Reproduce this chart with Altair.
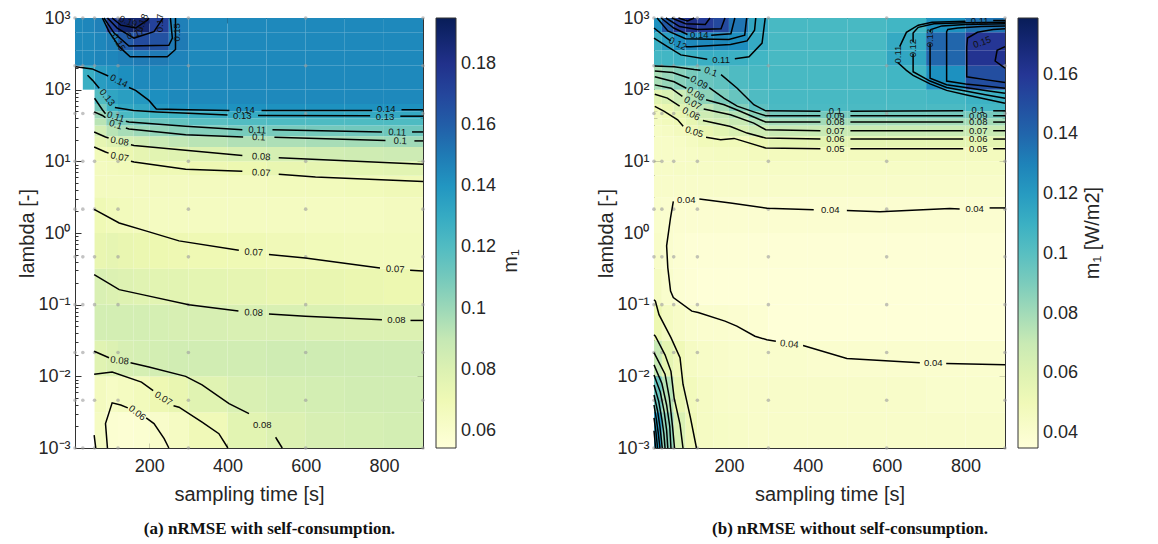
import altair as alt
import numpy as np
import pandas as pd

FONT = "Liberation Sans"
YLGNBU = ["#ffffd9", "#edf8b1", "#c7e9b4", "#7fcdbb", "#41b6c4",
          "#1d91c0", "#225ea8", "#253494", "#081d58"]

# grid of cells (sampling time edges, log10(lambda) edges)
X_EDGES = [10, 30, 60, 90, 120, 160, 200, 250, 300, 400, 500, 600, 700, 800, 900]
E_EDGES = [-3.0, -2.5, -2.0, -1.5, -1.0, -0.5, 0.0, 0.5, 0.8, 1.0, 1.2, 1.35,
           1.5, 1.6, 1.7, 1.8, 2.0, 2.333, 2.55, 2.8, 3.0]

# sample points
DOT_X = [10, 30, 60, 120, 300, 600, 900]
DOT_E = [-3.0, -2.333, -1.667, -1.0, -0.333, 0.333, 1.0, 1.667, 2.333, 3.0]

X_TICKS = [200, 400, 600, 800]
Y_TICKS = [-3, -2, -1, 0, 1, 2, 3]
MINOR_E = [k + float(np.log10(m)) for k in range(-3, 3) for m in range(2, 10)]

N = None
# panel (a): nRMSE with self-consumption, rows bottom -> top
A_ROWS = [
    [N, N, 0.064, 0.058, 0.057, 0.058, 0.061, 0.064, 0.069, 0.077, 0.080, 0.082, 0.083, 0.084],
    [N, N, 0.066, 0.063, 0.065, 0.067, 0.071, 0.074, 0.078, 0.081, 0.083, 0.084, 0.085, 0.085],
    [N, N, 0.078, 0.080, 0.082, 0.083, 0.084, 0.085, 0.085, 0.085, 0.086, 0.086, 0.086, 0.086],
    [N, N, 0.084, 0.084, 0.084, 0.084, 0.083, 0.082, 0.082, 0.081, 0.081, 0.0805, 0.080, 0.080],
    [N, N, 0.081, 0.080, 0.079, 0.078, 0.077, 0.077, 0.076, 0.075, 0.074, 0.074, 0.073, 0.072],
    [N, N, 0.074, 0.075, 0.074, 0.073, 0.072, 0.071, 0.0705, 0.070, 0.069, 0.068, 0.067, 0.067],
    [N, N, 0.070, 0.068, 0.067, 0.066, 0.065, 0.065, 0.065, 0.065, 0.065, 0.065, 0.065, 0.066],
    [N, N, 0.066, 0.066, 0.066, 0.066, 0.066, 0.066, 0.066, 0.066, 0.067, 0.067, 0.068, 0.069],
    [N, N, 0.066, 0.067, 0.068, 0.069, 0.070, 0.070, 0.071, 0.072, 0.074, 0.075, 0.076, 0.077],
    [N, N, 0.068, 0.070, 0.073, 0.075, 0.077, 0.078, 0.079, 0.081, 0.083, 0.085, 0.086, 0.087],
    [N, N, 0.075, 0.079, 0.083, 0.085, 0.088, 0.091, 0.093, 0.095, 0.096, 0.097, 0.098, 0.099],
    [N, N, 0.084, 0.093, 0.097, 0.100, 0.102, 0.104, 0.106, 0.109, 0.109, 0.110, 0.111, 0.112],
    [N, N, 0.093, 0.105, 0.109, 0.111, 0.113, 0.115, 0.118, 0.120, 0.121, 0.121, 0.121, 0.121],
    [N, N, 0.100, 0.113, 0.122, 0.123, 0.125, 0.126, 0.128, 0.130, 0.131, 0.131, 0.131, 0.131],
    [N, N, 0.110, 0.125, 0.132, 0.133, 0.139, 0.142, 0.142, 0.142, 0.142, 0.142, 0.142, 0.142],
    [N, N, 0.120, 0.133, 0.136, 0.139, 0.143, 0.145, 0.145, 0.145, 0.145, 0.145, 0.145, 0.145],
    [N, 0.128, 0.137, 0.140, 0.143, 0.145, 0.145, 0.145, 0.145, 0.145, 0.145, 0.145, 0.145, 0.145],
    [0.145, 0.145, 0.146, 0.146, 0.148, 0.150, 0.150, 0.147, 0.145, 0.145, 0.145, 0.145, 0.145, 0.145],
    [0.145, 0.145, 0.146, 0.148, 0.161, 0.168, 0.165, 0.150, 0.145, 0.145, 0.145, 0.145, 0.145, 0.145],
    [0.145, 0.146, 0.148, 0.172, 0.190, 0.188, 0.172, 0.148, 0.145, 0.145, 0.145, 0.145, 0.145, 0.145],
]

# panel (b): nRMSE without self-consumption, rows bottom -> top
B_ROWS = [
    [0.120, 0.085, 0.062, 0.050, 0.045, 0.044, 0.043, 0.042, 0.042, 0.042, 0.042, 0.042, 0.042, 0.042],
    [0.095, 0.075, 0.055, 0.048, 0.045, 0.043, 0.042, 0.042, 0.042, 0.042, 0.042, 0.042, 0.041, 0.041],
    [0.071, 0.057, 0.050, 0.045, 0.043, 0.042, 0.041, 0.041, 0.041, 0.040, 0.040, 0.040, 0.040, 0.040],
    [0.053, 0.046, 0.043, 0.041, 0.040, 0.040, 0.039, 0.038, 0.036, 0.036, 0.036, 0.036, 0.036, 0.036],
    [0.045, 0.041, 0.038, 0.037, 0.036, 0.036, 0.036, 0.036, 0.036, 0.036, 0.036, 0.036, 0.036, 0.036],
    [0.042, 0.040, 0.038, 0.037, 0.037, 0.037, 0.037, 0.037, 0.037, 0.037, 0.037, 0.037, 0.037, 0.037],
    [0.041, 0.040, 0.039, 0.039, 0.039, 0.039, 0.039, 0.039, 0.039, 0.039, 0.039, 0.039, 0.039, 0.039],
    [0.042, 0.042, 0.042, 0.042, 0.042, 0.042, 0.042, 0.042, 0.042, 0.042, 0.042, 0.042, 0.042, 0.042],
    [0.043, 0.043, 0.044, 0.044, 0.044, 0.044, 0.044, 0.044, 0.044, 0.044, 0.044, 0.044, 0.044, 0.044],
    [0.043, 0.043, 0.043, 0.044, 0.045, 0.046, 0.046, 0.047, 0.047, 0.047, 0.047, 0.047, 0.047, 0.047],
    [0.043, 0.043, 0.044, 0.046, 0.049, 0.049, 0.049, 0.054, 0.057, 0.057, 0.057, 0.057, 0.057, 0.057],
    [0.044, 0.045, 0.047, 0.050, 0.055, 0.058, 0.062, 0.067, 0.070, 0.070, 0.070, 0.070, 0.070, 0.070],
    [0.046, 0.048, 0.051, 0.056, 0.062, 0.066, 0.070, 0.077, 0.080, 0.080, 0.080, 0.080, 0.080, 0.080],
    [0.047, 0.050, 0.055, 0.060, 0.068, 0.072, 0.076, 0.087, 0.092, 0.092, 0.092, 0.092, 0.092, 0.092],
    [0.050, 0.054, 0.060, 0.066, 0.073, 0.079, 0.088, 0.099, 0.104, 0.104, 0.104, 0.104, 0.104, 0.106],
    [0.058, 0.062, 0.068, 0.076, 0.085, 0.090, 0.096, 0.103, 0.105, 0.105, 0.105, 0.105, 0.106, 0.109],
    [0.079, 0.083, 0.087, 0.091, 0.095, 0.098, 0.103, 0.105, 0.105, 0.105, 0.105, 0.107, 0.125, 0.150],
    [0.106, 0.107, 0.109, 0.110, 0.111, 0.111, 0.110, 0.107, 0.105, 0.105, 0.105, 0.115, 0.140, 0.162],
    [0.110, 0.118, 0.126, 0.128, 0.128, 0.128, 0.126, 0.113, 0.105, 0.105, 0.105, 0.113, 0.140, 0.160],
    [0.125, 0.145, 0.158, 0.165, 0.158, 0.152, 0.135, 0.115, 0.105, 0.105, 0.105, 0.107, 0.125, 0.135],
]

# contour line pieces: (level, [(sampling time, log10 lambda), ...])
A_LINES = [
    ("0.14", [(12, 2.32), (54, 2.29), (95, 2.19)]),
    ("0.14", [(148, 2.03), (165, 1.99), (199, 1.85), (218, 1.73), (300, 1.72), (405, 1.71)]),
    ("0.14", [(487, 1.71), (770, 1.71)]),
    ("0.14", [(845, 1.72), (900, 1.72)]),
    ("0.13", [(42, 2.2), (55, 2.13), (72, 2.02)]),
    ("0.13", [(112, 1.75), (160, 1.71), (220, 1.69), (300, 1.67), (400, 1.645)]),
    ("0.13", [(478, 1.64), (765, 1.635)]),
    ("0.13", [(842, 1.63), (900, 1.63)]),
    ("0.11", [(60, 1.88), (80, 1.72), (88, 1.665)]),
    ("0.11", [(140, 1.56), (148, 1.55), (293, 1.49), (438, 1.44)]),
    ("0.11", [(515, 1.44), (795, 1.41)]),
    ("0.11", [(872, 1.41), (900, 1.41)]),
    ("0.1", [(59, 1.69), (80, 1.64), (88, 1.61)]),
    ("0.1", [(140, 1.465), (148, 1.45), (293, 1.37), (440, 1.34)]),
    ("0.1", [(520, 1.335), (804, 1.29)]),
    ("0.1", [(878, 1.285), (900, 1.285)]),
    ("0.08", [(59, 1.41), (88, 1.34), (96, 1.325)]),
    ("0.08", [(153, 1.23), (161, 1.22), (438, 1.08)]),
    ("0.08", [(531, 1.05), (900, 0.96)]),
    ("0.07", [(59, 1.2), (88, 1.13), (96, 1.115)]),
    ("0.07", [(153, 1.0), (161, 0.99), (293, 0.89), (438, 0.86)]),
    ("0.07", [(531, 0.82), (625, 0.78), (900, 0.72)]),
    ("0.07", [(59, 0.33), (123, 0.14), (191, 0.03), (276, -0.11), (429, -0.24)]),
    ("0.07", [(506, -0.30), (599, -0.35), (790, -0.49)]),
    ("0.07", [(867, -0.52), (900, -0.53)]),
    ("0.08", [(59, -0.58), (123, -0.79), (182, -0.86), (301, -1.0), (428, -1.09)]),
    ("0.08", [(506, -1.13), (599, -1.16), (795, -1.21)]),
    ("0.08", [(868, -1.22), (900, -1.22)]),
    ("0.08", [(59, -1.65), (97, -1.74)]),
    ("0.08", [(152, -1.81), (199, -1.87), (293, -2.0), (335, -2.12), (404, -2.38), (455, -2.52)]),
    ("0.08", [(523, -2.85), (540, -3.0)]),
    ("0.07", [(59, -1.97), (105, -1.94), (180, -2.08), (210, -2.2)]),
    ("0.07", [(262, -2.41), (276, -2.43), (335, -2.64), (378, -2.80), (401, -3.0)]),
    ("0.06", [(93, -3.0), (88, -2.66), (105, -2.37), (127, -2.40), (145, -2.44)]),
    ("0.06", [(192, -2.58), (212, -2.66), (238, -2.87), (250, -3.0)]),
    ("0.06", [(59, -2.82), (63, -3.0)]),
    ("0.15", [(80, 3.0), (97, 2.81), (123, 2.60), (151, 2.46), (246, 2.46), (267, 2.56), (267, 3.0)]),
    ("0.16", [(84, 3.0), (110, 2.79), (148, 2.61), (250, 2.62), (259, 2.72), (254, 3.0)]),
    ("0.17", [(93, 3.0), (118, 2.86), (161, 2.72), (212, 2.81), (235, 3.0)]),
    ("0.18", [(105, 3.0), (127, 2.90), (165, 2.86), (195, 2.97), (199, 3.0)]),
]

# contour labels: (text, sampling time, log10 lambda, angle)
A_LABELS = [
    ("0.14", 122, 2.12, 27), ("0.14", 446, 1.72, 0), ("0.14", 806, 1.725, 0),
    ("0.13", 92, 1.89, 52), ("0.13", 438, 1.635, 0), ("0.13", 803, 1.625, 0),
    ("0.11", 114, 1.62, 18), ("0.11", 476, 1.435, 2), ("0.11", 834, 1.405, 2),
    ("0.1", 114, 1.51, 18), ("0.1", 480, 1.335, 2), ("0.1", 842, 1.285, 2),
    ("0.08", 124, 1.28, 10), ("0.08", 486, 1.065, 3),
    ("0.07", 124, 1.06, 12), ("0.07", 486, 0.84, 3),
    ("0.07", 467, -0.27, 3), ("0.07", 829, -0.505, 3),
    ("0.08", 467, -1.11, 2), ("0.08", 832, -1.215, 0),
    ("0.08", 124, -1.78, 6), ("0.08", 489, -2.68, 0),
    ("0.07", 236, -2.31, 32), ("0.06", 169, -2.51, 38),
    ("0.15", 121, 2.66, 60), ("0.15", 272, 2.80, 270), ("0.17", 165, 2.78, 340),
    ("0.19", 146, 2.95, 20), ("0.18", 182, 2.93, 290), ("0.17", 228, 2.93, 270),
]

B_LINES = [
    ("0.1", [(12, 2.33), (61, 2.32), (112, 2.28), (128, 2.27)]),
    ("0.1", [(180, 2.21), (221, 2.02), (263, 1.79), (293, 1.705), (432, 1.70)]),
    ("0.1", [(508, 1.70), (794, 1.705)]),
    ("0.1", [(870, 1.705), (900, 1.705)]),
    ("0.09", [(12, 2.26), (57, 2.24), (100, 2.16)]),
    ("0.09", [(150, 2.03), (188, 1.88), (221, 1.77), (263, 1.69), (293, 1.636), (432, 1.636)]),
    ("0.09", [(508, 1.636), (794, 1.636)]),
    ("0.09", [(870, 1.636), (900, 1.636)]),
    ("0.08", [(12, 2.18), (61, 2.11), (92, 2.02)]),
    ("0.08", [(142, 1.86), (188, 1.789), (230, 1.696), (293, 1.548), (432, 1.548)]),
    ("0.08", [(508, 1.548), (794, 1.548)]),
    ("0.08", [(870, 1.548), (900, 1.548)]),
    ("0.07", [(12, 2.067), (53, 2.021), (82, 1.905)]),
    ("0.07", [(136, 1.73), (204, 1.65), (263, 1.534), (293, 1.441), (432, 1.427)]),
    ("0.07", [(508, 1.427), (794, 1.427)]),
    ("0.07", [(870, 1.427), (900, 1.427)]),
    ("0.06", [(12, 1.937), (44, 1.882), (75, 1.77)]),
    ("0.06", [(134, 1.57), (204, 1.487), (246, 1.394), (293, 1.325), (432, 1.311)]),
    ("0.06", [(508, 1.311), (794, 1.311)]),
    ("0.06", [(870, 1.311), (900, 1.311)]),
    ("0.05", [(12, 1.766), (36, 1.696), (70, 1.58), (84, 1.49)]),
    ("0.05", [(142, 1.335), (179, 1.302), (213, 1.32), (293, 1.186), (432, 1.176)]),
    ("0.05", [(508, 1.176), (794, 1.176)]),
    ("0.05", [(870, 1.176), (900, 1.176)]),
    ("0.04", [(900, 0.35), (861, 0.35)]),
    ("0.04", [(785, 0.335), (760, 0.341), (583, 0.295), (499, 0.313)]),
    ("0.04", [(415, 0.325), (297, 0.347), (204, 0.42), (125, 0.473)]),
    ("0.04", [(59, 0.44), (52, 0.216), (42, -0.18), (45, -0.483), (52, -0.81), (59, -0.90),
              (106, -1.09), (122, -1.11), (190, -1.23), (220, -1.30), (266, -1.44),
              (296, -1.49), (319, -1.51)]),
    ("0.04", [(388, -1.57), (499, -1.75), (684, -1.81)]),
    ("0.04", [(751, -1.82), (900, -1.84)]),
    ("0.05", [(10, -0.93), (13.5, -0.95), (22.7, -1.14), (53, -1.46), (76, -1.74),
              (83.5, -2.11), (102.5, -2.58), (117.7, -3.0)]),
    ("0.06", [(10, -1.42), (13.5, -1.44), (38, -1.70), (53, -1.93), (61, -2.30), (76, -2.67), (83.5, -3.0)]),
    ("0.07", [(10, -1.67), (38, -1.97), (49, -2.30), (57, -2.7), (62, -3.0)]),
    ("0.08", [(10, -1.84), (30, -2.1), (42, -2.4), (50, -2.7), (53, -3.0)]),
    ("0.09", [(10, -1.98), (26, -2.22), (36, -2.5), (42, -2.75), (45, -3.0)]),
    ("0.1", [(10, -2.12), (22, -2.35), (30, -2.6), (35, -2.8), (38, -3.0)]),
    ("0.11", [(10, -2.26), (19, -2.48), (25, -2.7), (31, -3.0)]),
    ("0.12", [(10, -2.4), (16, -2.6), (21, -2.8), (25, -3.0)]),
    ("0.13", [(10, -2.58), (15, -2.78), (19, -3.0)]),
    ("0.14", [(10, -2.76), (14, -3.0)]),
    ("0.11", [(10, 2.72), (44, 2.6), (78, 2.485), (145, 2.425)]),
    ("0.11", [(215, 2.43), (251, 2.46), (284, 2.65), (292, 3.0)]),
    ("0.12", [(10, 2.86), (40, 2.73), (52, 2.68)]),
    ("0.12", [(90, 2.6), (103, 2.6), (204, 2.63), (246, 2.68), (265, 2.83), (268, 3.0)]),
    ("0.13", [(18, 3.0), (45, 2.82), (90, 2.71), (200, 2.70), (240, 2.76), (245, 3.0)]),
    ("0.14", [(28, 3.0), (60, 2.86), (95, 2.77)]),
    ("0.14", [(155, 2.76), (205, 2.78), (215, 3.0)]),
    ("0.15", [(40, 3.0), (75, 2.88), (120, 2.84), (180, 2.85), (190, 3.0)]),
    ("0.16", [(55, 3.0), (90, 2.92), (140, 2.91), (152, 3.0)]),
    ("0.17", [(72, 3.0), (95, 2.96), (112, 3.0)]),
    ("0.11", [(900, 2.965), (870, 2.965)]),
    ("0.11", [(800, 2.955), (715, 2.94), (680, 2.9), (650, 2.8), (633, 2.6)]),
    ("0.11", [(628, 2.38), (650, 2.27), (667, 2.2), (710, 2.08), (752, 1.99), (800, 1.93),
              (850, 1.87), (900, 1.81)]),
    ("0.12", [(900, 2.94), (800, 2.935), (720, 2.92), (680, 2.87), (667, 2.79), (667, 2.66)]),
    ("0.12", [(667, 2.5), (667, 2.25), (710, 2.12), (752, 2.03), (800, 1.98), (850, 1.93), (900, 1.88)]),
    ("0.13", [(900, 2.92), (800, 2.91), (740, 2.89), (712, 2.84), (710, 2.8)]),
    ("0.13", [(710, 2.64), (710, 2.16), (752, 2.07), (800, 2.03), (850, 1.99), (900, 1.95)]),
    ("0.14", [(900, 2.89), (840, 2.88), (780, 2.86), (755, 2.84), (752, 2.81), (752, 2.12),
              (800, 2.08), (850, 2.05), (900, 2.02)]),
    ("0.15", [(900, 2.85), (870, 2.84), (830, 2.8), (805, 2.72), (803, 2.6), (803, 2.18),
              (850, 2.14), (900, 2.1)]),
    ("0.16", [(900, 2.6), (880, 2.55), (875, 2.4), (900, 2.3)]),
]

B_LABELS = [
    ("0.1", 154, 2.25, 20), ("0.09", 124, 2.10, 30), ("0.08", 116, 1.94, 32),
    ("0.07", 108, 1.81, 30), ("0.06", 104, 1.66, 28), ("0.05", 112, 1.41, 18),
    ("0.1", 470, 1.705, 0), ("0.09", 470, 1.632, 0), ("0.08", 470, 1.548, 0),
    ("0.07", 470, 1.427, 0), ("0.06", 470, 1.311, 0), ("0.05", 470, 1.176, 0),
    ("0.1", 832, 1.71, 0), ("0.09", 832, 1.632, 0), ("0.08", 832, 1.548, 0),
    ("0.07", 832, 1.427, 0), ("0.06", 832, 1.311, 0), ("0.05", 832, 1.176, 0),
    ("0.04", 92, 0.46, 0), ("0.04", 457, 0.318, 0), ("0.04", 823, 0.34, 0),
    ("0.04", 353, -1.55, 6), ("0.04", 718, -1.82, 0),
    ("0.11", 180, 2.415, 0), ("0.12", 70, 2.64, 25), ("0.14", 125, 2.765, 0),
    ("0.11", 836, 2.96, 0), ("0.11", 628, 2.49, 270), ("0.12", 667, 2.58, 270),
    ("0.13", 710, 2.72, 270), ("0.15", 842, 2.66, 340),
]

A_COLOR_DOMAIN = [0.0544, 0.195]
A_LEGEND_VALUES = [0.06, 0.08, 0.10, 0.12, 0.14, 0.16, 0.18]
B_COLOR_DOMAIN = [0.035, 0.179]
B_LEGEND_VALUES = [0.04, 0.06, 0.08, 0.10, 0.12, 0.14, 0.16]

Y_LABEL_EXPR = ("datum.value == 3 ? '10³' : datum.value == 2 ? '10²' : datum.value == 1 ? '10¹' : "
                "datum.value == 0 ? '10⁰' : datum.value == -1 ? '10⁻¹' : datum.value == -2 ? '10⁻²' : '10⁻³'")


def cells_df(rows):
    recs = []
    for j, row in enumerate(rows):
        for i, v in enumerate(row):
            if v is None:
                continue
            recs.append(dict(x=X_EDGES[i], x2=X_EDGES[i + 1], e=E_EDGES[j], e2=E_EDGES[j + 1], v=v))
    return pd.DataFrame(recs)


def lines_df(lines):
    recs = []
    for s, (lvl, pts) in enumerate(lines):
        for k, (x, e) in enumerate(pts):
            recs.append(dict(seg=s, k=k, level=lvl, x=x, e=e))
    return pd.DataFrame(recs)


def labels_df(labels):
    return pd.DataFrame(labels, columns=["t", "x", "e", "a"])


DOTS = pd.DataFrame([dict(x=x, e=e) for x in DOT_X for e in DOT_E])


def tick_axis(values, orient, size):
    # tick-only axis moved inside the frame so its ticks point inward
    return alt.Axis(values=values, orient=orient, labels=False, tickSize=size, offset=-size,
                    domain=False, title=None, grid=False)


def panel(rows, lines, labels, cdom, lvals, cbar_title, cbar_dy, width, height, caption):
    cscale = alt.Scale(domain=cdom, range=YLGNBU, interpolate="rgb")
    xs = alt.Scale(domain=[10, 900], nice=False, zero=False)
    ys = alt.Scale(domain=[-3, 3], nice=False, zero=False)

    heat = alt.Chart(cells_df(rows)).mark_rect(stroke=None, strokeWidth=0).encode(
        x=alt.X("x:Q", scale=xs, axis=alt.Axis(values=X_TICKS, title="sampling time [s]",
                                                tickSize=5, offset=-5, labelPadding=9,
                                                titlePadding=9, domain=False, labelFlush=False)),
        x2="x2:Q",
        y=alt.Y("e:Q", scale=ys, axis=alt.Axis(values=Y_TICKS, labelExpr=Y_LABEL_EXPR,
                                                title="lambda [-]", tickSize=6, offset=-6,
                                                labelPadding=5, titlePadding=0, domain=False)),
        y2="e2:Q",
        color=alt.Color("v:Q", scale=cscale,
                        legend=alt.Legend(type="gradient", title=None, values=lvals, format="~g",
                                          gradientLength=height, gradientThickness=20,
                                          labelFontSize=18, labelFont=FONT, labelColor="#262626",
                                          offset=10, direction="vertical", orient="right",
                                          gradientStrokeColor="#333", gradientStrokeWidth=1,
                                          labelOverlap=False, labelOffset=5)),
    )
    dots = alt.Chart(DOTS).mark_circle(size=13, color="#9b9b9b", opacity=0.6).encode(
        x=alt.X("x:Q", scale=xs, axis=tick_axis(X_TICKS, "top", 5)),
        y=alt.Y("e:Q", scale=ys, axis=tick_axis(MINOR_E, "left", 3)),
    )
    contours = alt.Chart(lines_df(lines)).mark_line(color="#000000", strokeWidth=1.5).encode(
        x=alt.X("x:Q", scale=xs, axis=None),
        y=alt.Y("e:Q", scale=ys, axis=tick_axis(Y_TICKS, "right", 6)),
        detail="seg:N", order="k:Q",
    )
    text = alt.Chart(labels_df(labels)).mark_text(fontSize=9.5, font=FONT, color="#111111").encode(
        x=alt.X("x:Q", scale=xs, axis=None),
        y=alt.Y("e:Q", scale=ys, axis=tick_axis(MINOR_E, "right", 3)),
        text="t:N", angle=alt.Angle("a:Q", scale=None),
    )
    cbt = alt.Chart(pd.DataFrame({"t": [cbar_title]})).mark_text(
        angle=270, fontSize=20, font=FONT, color="#262626").encode(
        x=alt.value(width + 88), y=alt.value(height / 2 + cbar_dy), text="t:N")
    return alt.layer(heat, dots, contours, text, cbt).resolve_axis(
        x="independent", y="independent").properties(
        width=width, height=height,
        title=alt.TitleParams(caption, orient="bottom", anchor="middle", frame="bounds",
                              font="Liberation Serif", fontSize=17, fontWeight="bold",
                              color="#111111", offset=17))


pa = panel(A_ROWS, A_LINES, A_LABELS, A_COLOR_DOMAIN, A_LEGEND_VALUES, "m₁", 28, 348, 430,
           "(a) nRMSE with self-consumption.")
pb = panel(B_ROWS, B_LINES, B_LABELS, B_COLOR_DOMAIN, B_LEGEND_VALUES, "m₁ [W/m2]", 0, 351, 430,
           "(b) nRMSE without self-consumption.")

chart = alt.hconcat(pa, pb, spacing=74).resolve_scale(
    color="independent", x="independent", y="independent"
).configure(
    font=FONT, padding={"left": 9, "top": 0, "right": 5, "bottom": 5}
).configure_view(stroke="#333333", strokeWidth=1).configure_axis(
    labelFont=FONT, titleFont=FONT, labelFontSize=18, titleFontSize=20, titleFontWeight="normal",
    labelColor="#262626", titleColor="#262626", domainColor="#333333", tickColor="#333333",
    grid=False,
)

chart.save("out.html", embed_options={"renderer": "svg", "actions": False})
